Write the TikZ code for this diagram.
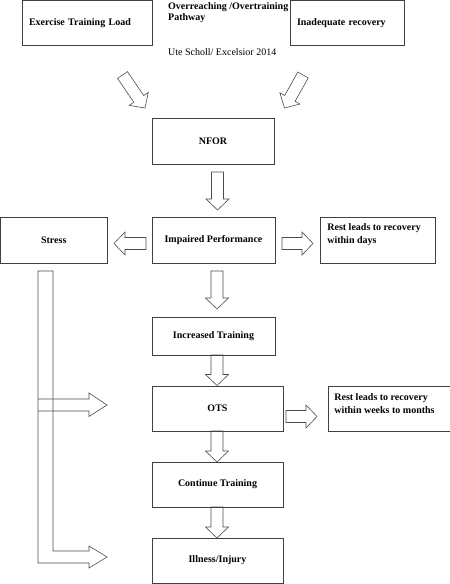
\documentclass[tikz,border=0pt]{standalone}
\usepackage{fontspec}
\setmainfont{Liberation Serif}
\usetikzlibrary{calc}
\tikzset{
  box/.style={draw=black!75, line width=0.7pt, inner sep=0pt, font=\fontsize{10pt}{12pt}\selectfont\bfseries},
  fat/.style={draw=black!70, line width=0.6pt, line join=miter},
}
\def\faw{6pt}
\def\fhw{11.5pt}
\def\fah{11pt}
\newcommand\fatarrow[2]{\draw[fat] ($(#1)!\faw!-90:(#2)$) -- ($(#2)!\fah!(#1)!\faw!90:(#1)$) -- ($(#2)!\fah!(#1)!\fhw!90:(#1)$) -- (#2) -- ($(#2)!\fah!(#1)!\fhw!-90:(#1)$) -- ($(#2)!\fah!(#1)!\faw!-90:(#1)$) -- ($(#1)!\faw!90:(#2)$) -- cycle;}
\newcommand\topbox[2]{\parbox[c][#1][t]{#2}}
\begin{document}
\begin{tikzpicture}[x=1pt,y=-1pt]
\useasboundingbox (0,0) rectangle (450,584);
% boxes
\node[box, minimum width=130pt, minimum height=44.5pt, text width=116pt, align=left] (etl) at (87,22.75) {Exercise Training Load};
\node[box, minimum width=114pt, minimum height=44.5pt, text width=100pt, align=left] (inr) at (347,22.75) {Inadequate recovery};
\node[anchor=north west, inner sep=0pt, align=left, font=\fontsize{10pt}{11pt}\selectfont\bfseries] (title) at (168,2) {Overreaching /Overtraining\\Pathway};
\node[anchor=west, inner sep=0pt, font=\fontsize{10pt}{12pt}\selectfont] (credit) at (168,52.5) {Ute Scholl/ Excelsior 2014};
\node[box, minimum width=122pt, minimum height=46pt] (nfor) at (213,141) {NFOR};
\node[box, minimum width=123pt, minimum height=46pt] (imp) at (213.5,240) {Impaired Performance};
\node[box, minimum width=106.5pt, minimum height=46pt] (stress) at (53.75,240) {Stress};
\node[box, anchor=north west] (rest1) at (320,217) {\topbox{46pt}{115pt}{\fontsize{10pt}{13pt}\selectfont\leftskip=7pt\vspace*{4.5pt}\strut Rest leads to recovery\\ within days}};
\node[box, minimum width=123pt, minimum height=38pt] (inc) at (213.5,336) {Increased Training};
\node[box, minimum width=131pt, minimum height=45pt] (ots) at (217.5,408.5) {OTS};
\node[box, anchor=north west] (rest2) at (328,386) {\topbox{45pt}{121.5pt}{\fontsize{10pt}{13pt}\selectfont\leftskip=6pt\vspace*{5pt}\strut Rest leads to recovery\\ within weeks to months}};
\node[box, minimum width=131pt, minimum height=45pt] (cont) at (217.5,484.5) {Continue Training};
\node[box, minimum width=131pt, minimum height=45pt] (ill) at (217.5,560.5) {Illness/Injury};
% arrow end points
\coordinate (d1a) at (122.5,75);
\coordinate (d1b) at (145,108);
\coordinate (d2a) at (303,75);
\coordinate (d2b) at (284.5,108);
\coordinate (n1a) at (217.5,172);
\coordinate (n1b) at (217.5,210);
\coordinate (s1a) at (146,243.5);
\coordinate (s1b) at (114,243.5);
\coordinate (r1a) at (282,243.5);
\coordinate (r1b) at (313,243.5);
\coordinate (i1a) at (217,271);
\coordinate (i1b) at (217,309);
\coordinate (i2a) at (217,355);
\coordinate (i2b) at (217,385.5);
\coordinate (o1a) at (217,431);
\coordinate (o1b) at (217,462);
\coordinate (o2a) at (286,416.5);
\coordinate (o2b) at (317,416.5);
\coordinate (c1a) at (217,507);
\coordinate (c1b) at (217,538);
\fatarrow{d1a}{d1b}
\fatarrow{d2a}{d2b}
\fatarrow{n1a}{n1b}
\fatarrow{s1a}{s1b}
\fatarrow{r1a}{r1b}
\fatarrow{i1a}{i1b}
\fatarrow{i2a}{i2b}
\fatarrow{o1a}{o1b}
\fatarrow{o2a}{o2b}
\fatarrow{c1a}{c1b}
% stress bar with branch arrows
\draw[fat] (38,271) -- (53,271) -- (53,551) -- (89,551) -- (89,546) -- (107,557) -- (89,568) -- (89,563) -- (38,563) -- cycle;
\draw[fat] (38,399) -- (89,399) -- (89,393) -- (107,405) -- (89,416.5) -- (89,411) -- (38,411);
\end{tikzpicture}
\end{document}
